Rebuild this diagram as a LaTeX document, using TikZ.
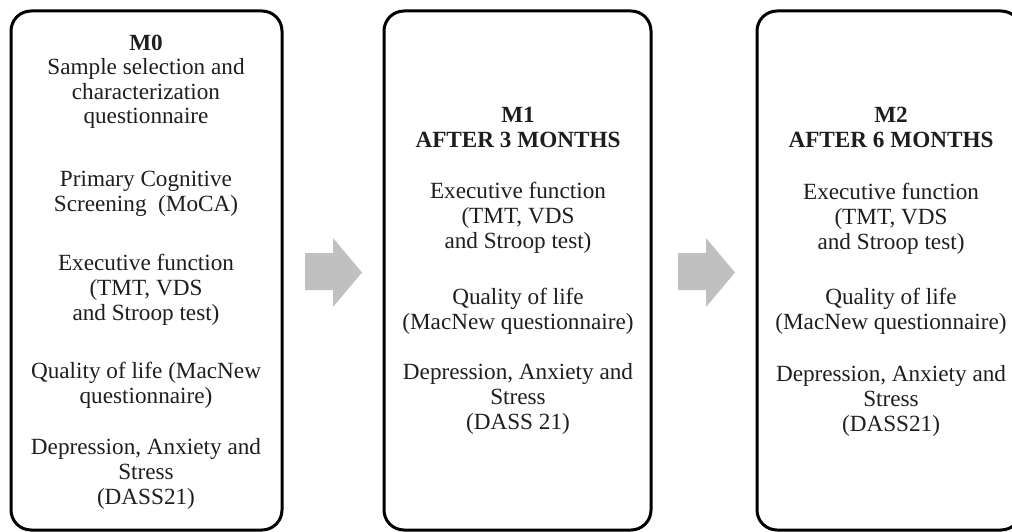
\documentclass[tikz,border=0pt]{standalone}
\usepackage{fontspec}
\setmainfont{Liberation Serif}
\definecolor{arrgray}{RGB}{192,192,192}
\definecolor{ink}{RGB}{30,30,30}
\begin{document}
\begin{tikzpicture}[x=1pt,y=-1pt,
  box/.style={draw=black, line width=3pt, rounded corners=20pt, inner sep=0pt},
  txt/.style={align=center, font=\fontsize{23.2}{24.6}\selectfont, anchor=base, inner sep=0pt, text=ink},
  arr/.style={fill=arrgray, draw=none}]
\useasboundingbox (0,0) rectangle (1012,532);
% boxes
\node[box, minimum width=271pt, minimum height=519pt] (b1) at (146.5,270.5) {};
\node[box, minimum width=267pt, minimum height=519pt] (b2) at (517.5,270.5) {};
\node[box, minimum width=264pt, minimum height=519pt] (b3) at (889,270.5) {};
% arrows
\fill[arr] (305,253) -- (333,253) -- (333,238) -- (362,272.5) -- (333,307) -- (333,290) -- (305,290) -- cycle;
\fill[arr] (678,253) -- (706,253) -- (706,238) -- (735,272.5) -- (706,307) -- (706,290) -- (678,290) -- cycle;
% box 1 text (anchor = baseline of last line)
\node[txt] (t1a) at (146,124) {\textbf{M0}\\Sample selection and\\characterization\\questionnaire};
\node[txt] (t1b) at (146,211) {Primary Cognitive\\Screening~ (MoCA)};
\node[txt] (t1c) at (146,320) {Executive function\\(TMT, VDS\\and Stroop test)};
\node[txt] (t1d) at (146,403) {Quality of life (MacNew\\questionnaire)};
\node[txt] (t1e) at (146,504) {Depression, Anxiety and\\Stress\\(DASS21)};
% box 2 text
\node[txt] (t2a) at (518,147) {\textbf{M1}\\\textbf{AFTER 3 MONTHS}};
\node[txt] (t2b) at (518,248) {Executive function\\(TMT, VDS\\and Stroop test)};
\node[txt] (t2c) at (518,329) {Quality of life\\(MacNew questionnaire)};
\node[txt] (t2d) at (518,429) {Depression, Anxiety and\\Stress\\(DASS 21)};
% box 3 text
\node[txt] (t3a) at (891,147) {\textbf{M2}\\\textbf{AFTER 6 MONTHS}};
\node[txt] (t3b) at (891,249) {Executive function\\(TMT, VDS\\and Stroop test)};
\node[txt] (t3c) at (891,329) {Quality of life\\(MacNew questionnaire)};
\node[txt] (t3d) at (891,431) {Depression, Anxiety and\\Stress\\(DASS21)};
\end{tikzpicture}
\end{document}
